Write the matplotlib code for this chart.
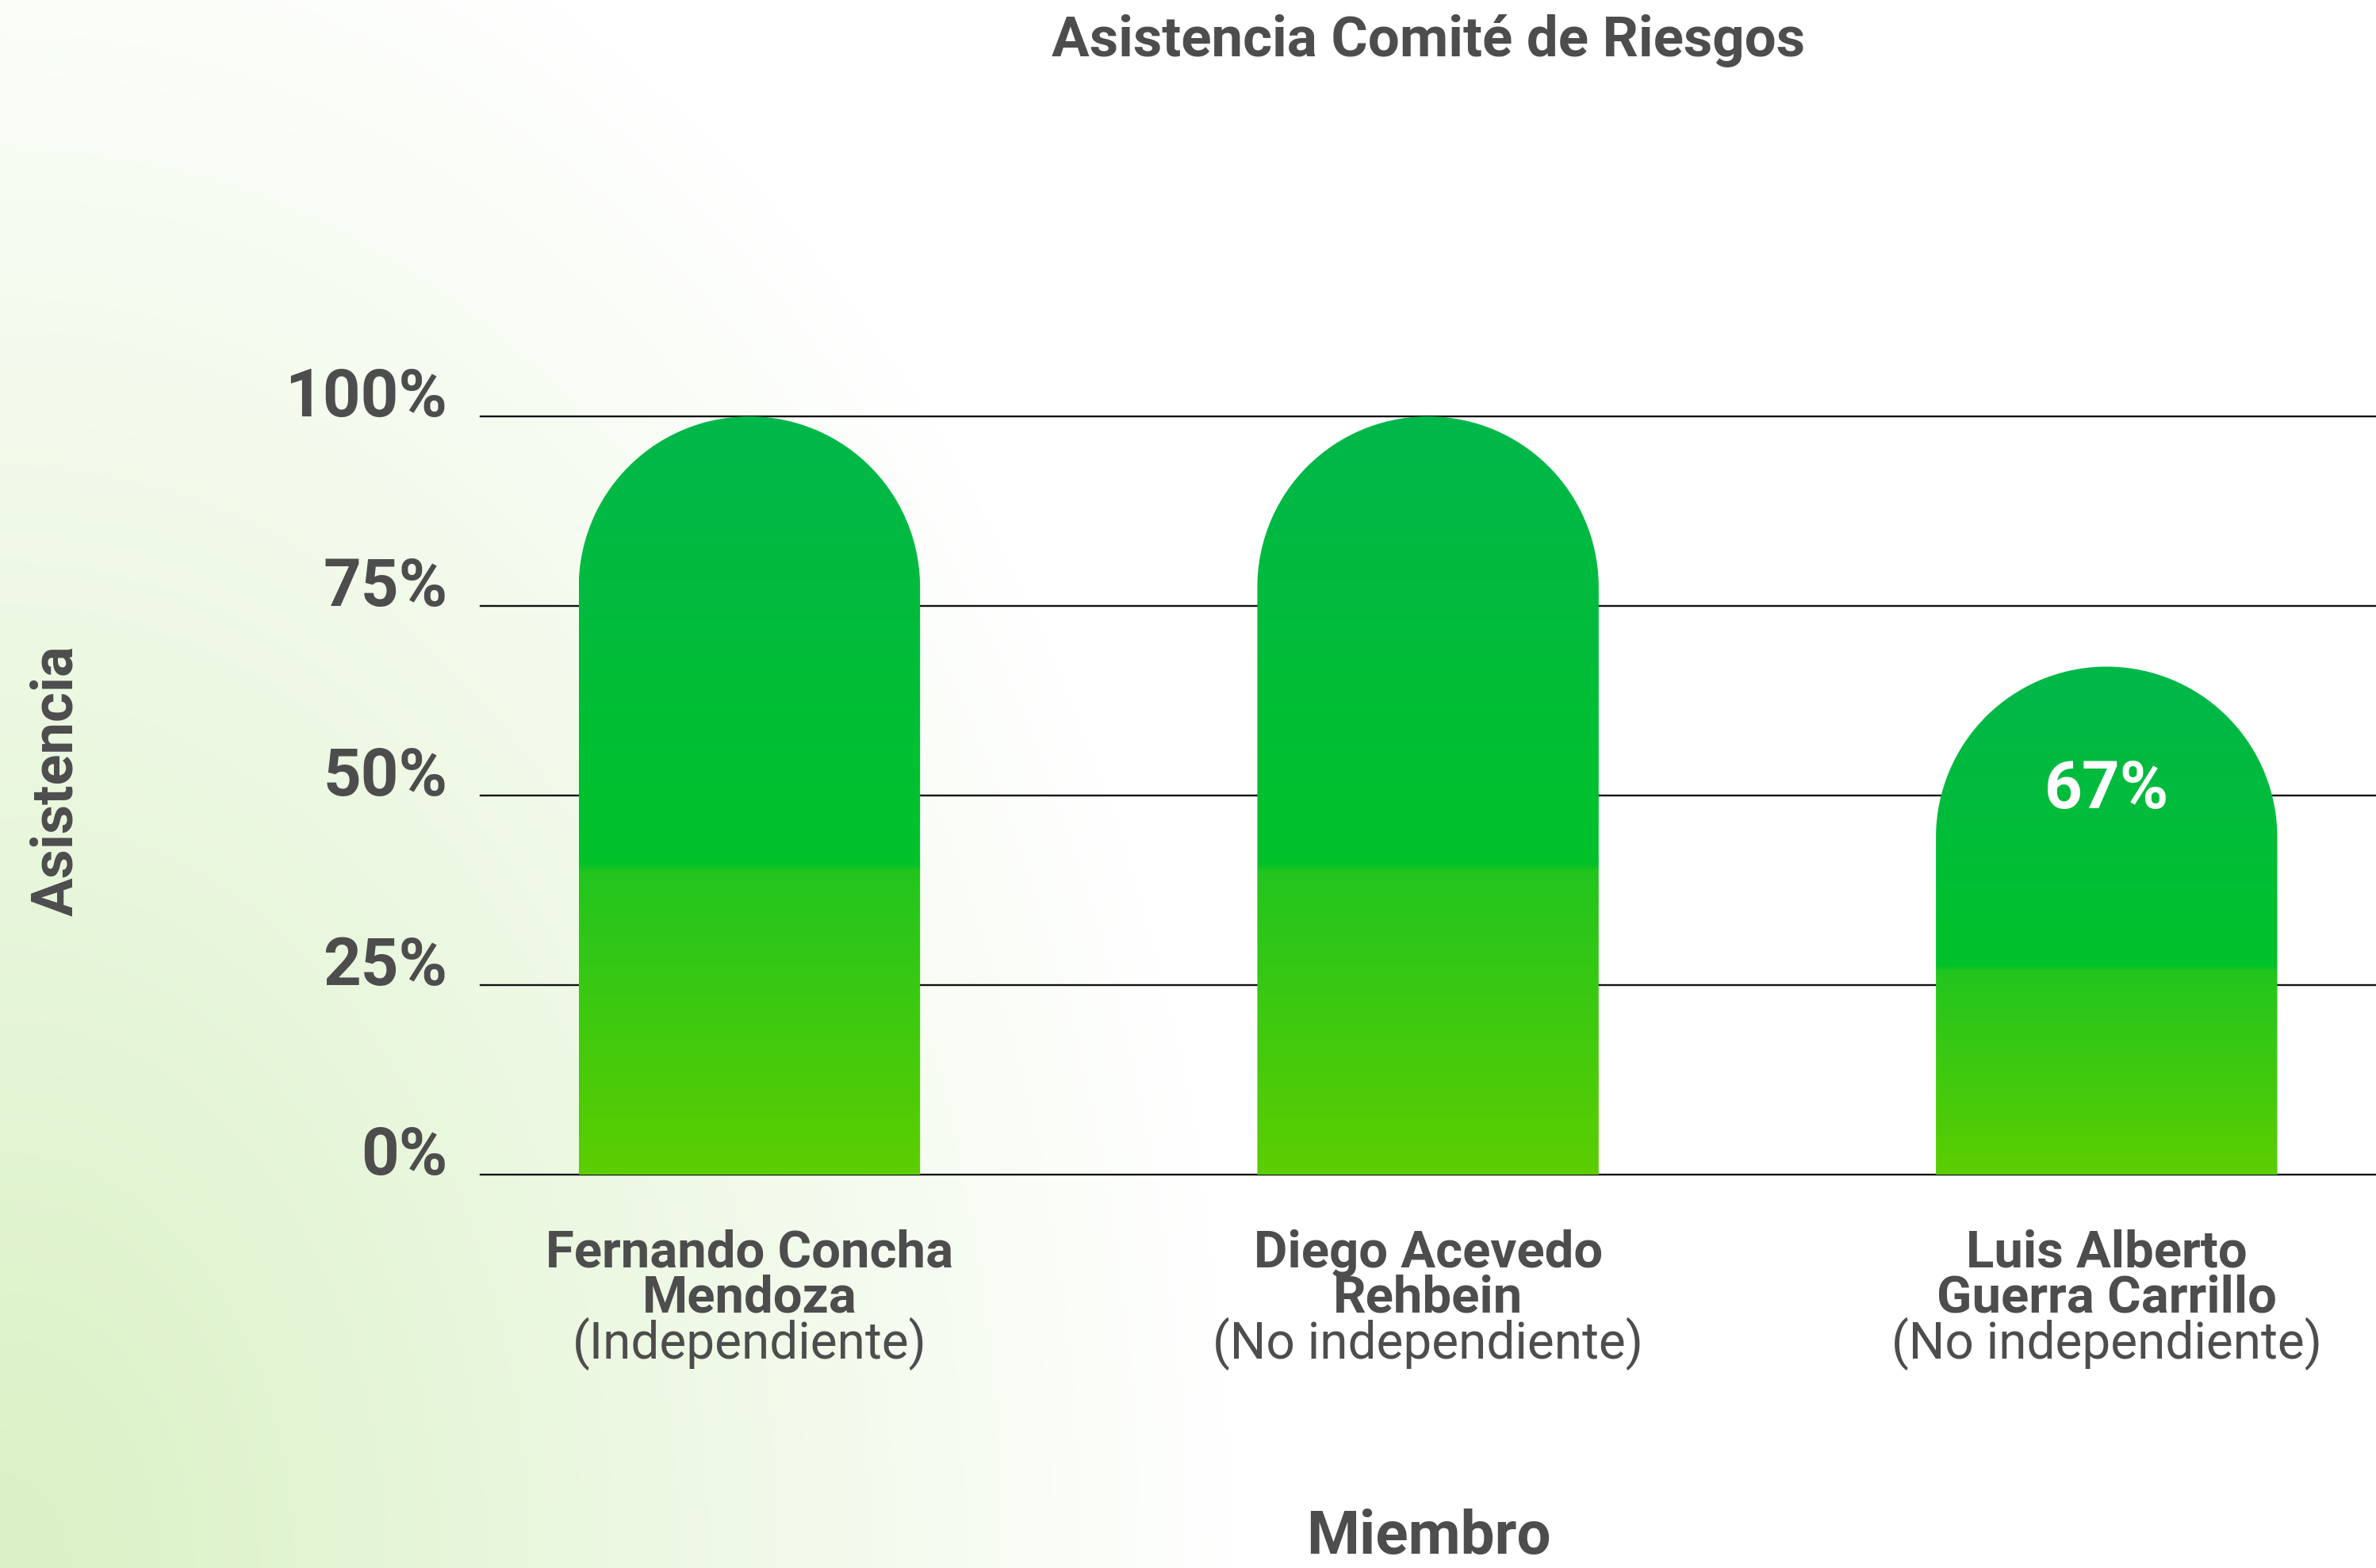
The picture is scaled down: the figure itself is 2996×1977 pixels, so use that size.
import numpy as np
import matplotlib
matplotlib.use("Agg")
import matplotlib.pyplot as plt
from matplotlib.path import Path
from matplotlib.patches import PathPatch
from matplotlib.colors import to_rgb

# Attendance data
members = ["Fernando Concha\nMendoza", "Diego Acevedo\nRehbein", "Luis Alberto\nGuerra Carrillo"]
member_type = ["(Independiente)", "(No independiente)", "(No independiente)"]
attendance = [100, 100, 67]
yticks = [0, 25, 50, 75, 100]
ytick_labels = ["0%", "25%", "50%", "75%", "100%"]

TEXT = "#4d4d4d"
FONT = "Roboto"

# bar gradient stops, bottom -> top
bar_stops = [(0.0, "#5cce00"), (0.40, "#22c51e"), (0.41, "#00c22a"), (1.0, "#00b74a")]
bg_corner = np.array(to_rgb("#d9f1c4"))

W, H, DPI = 29.96, 19.77, 100
fig = plt.figure(figsize=(W, H), dpi=DPI)

# soft green wash from the lower-left corner
bg = fig.add_axes([0, 0, 1, 1], zorder=-10)
gx, gy = np.meshgrid(np.linspace(0, 1, 600), np.linspace(0, 1, 400))
d = np.sqrt((gx * W * DPI / 1550) ** 2 + (gy * H * DPI / 2200) ** 2)
d = np.clip(d, 0, 1)[..., None]
bg_img = bg_corner + (1 - bg_corner) * d
bg.imshow(bg_img, origin="lower", extent=(0, 1, 0, 1), aspect="auto", interpolation="bilinear")
bg.axis("off")

ax_rect = [0.2023, 0.2509, 0.7977, 0.4835]
ax = fig.add_axes(ax_rect)
ax.set_facecolor("none")
xlim = (-0.396, 2.397)
ylim = (0, 100)
bar_w = 0.503

# gradient column used for every bar
t = np.linspace(0, 1, 256)
pos = [s for s, _ in bar_stops]
cols = np.array([to_rgb(c) for _, c in bar_stops])
grad = np.stack([np.interp(t, pos, cols[:, i]) for i in range(3)], axis=1)[:, None, :]

# pixels per data unit, so the top cap is a true semicircle
sx = W * DPI * ax_rect[2] / (xlim[1] - xlim[0])
sy = H * DPI * ax_rect[3] / (ylim[1] - ylim[0])
rx = bar_w / 2
ry = rx * sx / sy

x = np.arange(len(members))
theta = np.linspace(np.pi, 0, 120)
for xi, v in zip(x, attendance):
    verts = [(xi - rx, 0), (xi - rx, v - ry)]
    verts += list(zip(xi + rx * np.cos(theta), v - ry + ry * np.sin(theta)))
    verts += [(xi + rx, v - ry), (xi + rx, 0), (xi - rx, 0)]
    codes = [Path.MOVETO] + [Path.LINETO] * (len(verts) - 2) + [Path.CLOSEPOLY]
    patch = PathPatch(Path(verts, codes), facecolor="none", edgecolor="none", zorder=2)
    ax.add_patch(patch)
    im = ax.imshow(grad, extent=(xi - rx, xi + rx, 0, v), origin="lower",
                   aspect="auto", zorder=2, interpolation="bilinear")
    im.set_clip_path(patch)
    if v < 100:
        ax.annotate(f"{v:.0f}%", (xi, v), xytext=(0, -112), textcoords="offset points",
                    ha="center", va="center", color="white", fontsize=60,
                    fontweight="bold", family=FONT, zorder=3)

ax.set_xlim(*xlim)
ax.set_ylim(*ylim)
ax.set_aspect("auto")

# y axis and grid
ax.set_yticks(yticks)
ax.set_yticklabels(ytick_labels, fontsize=60, fontweight="bold", color=TEXT, family=FONT)
for lab in ax.get_yticklabels():
    lab.set_verticalalignment("baseline")
ax.tick_params(axis="y", length=0, pad=30)
ax.yaxis.grid(True, color="#111111", linewidth=1.7)
for gl in ax.get_ygridlines():
    gl.set_clip_on(False)
ax.set_axisbelow(True)
for s in ax.spines.values():
    s.set_visible(False)

# category labels: bold names, regular type underneath
ax.set_xticks(x)
ax.set_xticklabels([])
ax.tick_params(axis="x", length=0)
for xi, name, kind in zip(x, members, member_type):
    ax.annotate(name, (xi, 0), xycoords=("data", "axes fraction"), xytext=(0, -92),
                textcoords="offset points", ha="center", va="center", fontsize=47,
                fontweight="bold", color=TEXT, family=FONT, linespacing=0.92)
    ax.annotate(kind, (xi, 0), xycoords=("data", "axes fraction"), xytext=(0, -154),
                textcoords="offset points", ha="center", va="center", fontsize=46,
                color=TEXT, family=FONT)

ax.set_title("Asistencia Comité de Riesgos", fontsize=51, fontweight="bold",
             color=TEXT, family=FONT, pad=327)
ax.set_ylabel("Asistencia", fontsize=52, fontweight="bold", color=TEXT, family=FONT,
              va="center")
ax.yaxis.set_label_coords(-0.2238, 0.52)
ax.set_xlabel("Miembro", fontsize=55, fontweight="bold", color=TEXT, family=FONT,
              va="bottom")
ax.xaxis.set_label_coords(0.5, -0.5170)

fig.savefig("out.png", dpi=DPI)
